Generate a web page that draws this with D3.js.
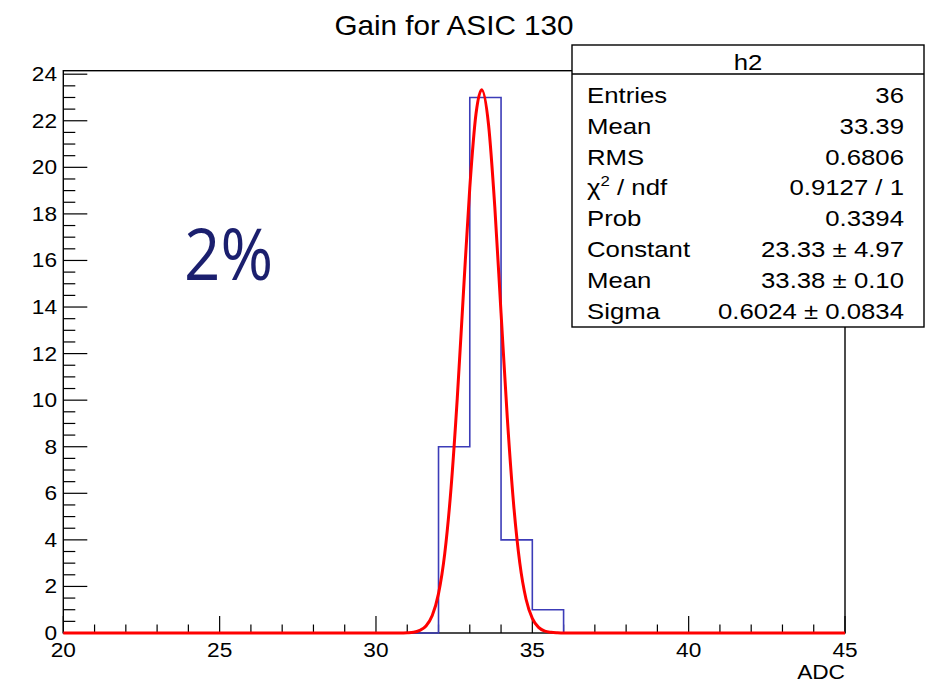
<!DOCTYPE html>
<html>
<head>
<meta charset="utf-8">
<script src="https://cdn.jsdelivr.net/npm/d3@7"></script>
<style>
  html, body { margin: 0; padding: 0; background: #fff; }
  svg { display: block; }
</style>
</head>
<body>
<svg id="chart" width="930" height="684"></svg>
<script>
// ---------------- data ----------------
const binEdges = [20,21,22,23,24,25,26,27,28,29,30,31,32,33,34,35,36,37,38,39,40,41,42,43,44,45];
const binCounts = [0,0,0,0,0,0,0,0,0,0,0,0,8,23,4,1,0,0,0,0,0,0,0,0,0];
// fit curve (gaus)
const fitX = [20, 30.8, 31.0, 31.2, 31.4, 31.6, 31.8, 32.0, 32.2, 32.4, 32.6, 32.8, 33.0, 33.2, 33.38, 33.6, 33.8, 34.0, 34.2, 34.4, 34.6, 34.8, 35.0, 35.2, 35.4, 35.6, 35.8, 36.0, 45];
const fitY = [0, 0, 0.01, 0.03, 0.11, 0.30, 0.75, 1.69, 3.42, 6.21, 10.09, 14.68, 19.12, 22.31, 23.33, 21.83, 18.30, 13.74, 9.24, 5.56, 3.00, 1.45, 0.63, 0.24, 0.08, 0.03, 0.01, 0, 0];
const xTicks = [20, 25, 30, 35, 40, 45];
const yTicks = [0, 2, 4, 6, 8, 10, 12, 14, 16, 18, 20, 22, 24];
const statsLabels = ["Entries", "Mean", "RMS", "χ2 / ndf", "Prob", "Constant", "Mean", "Sigma"];
const statsValues = ["36", "33.39", "0.6806", "0.9127 / 1", "0.3394", "23.33 ± 4.97", "33.38 ± 0.10", "0.6024 ± 0.0834"];
const titleText = "Gain for ASIC 130";
const histName = "h2";
const xTitle = "ADC";
const annotation = "2%";

// ---------------- layout ----------------
const svg = d3.select("#chart");
const L = 63.3, R = 845, T = 70.7, B = 633;
const x = d3.scaleLinear().domain([20, 45]).range([L, R]);
const y = d3.scaleLinear().domain([0, 24.15]).range([B, T]);
const FONT = "'Liberation Sans', Arial, Helvetica, sans-serif";

// text helper with slight horizontal stretch (reference glyphs are wider than tall)
function addText(parent, px, py, str, size, anchor, sx) {
  return parent.append("text")
    .attr("transform", `translate(${px},${py}) scale(${sx},1)`)
    .attr("text-anchor", anchor)
    .attr("font-family", FONT).attr("font-size", size).attr("fill", "#000")
    .text(str);
}

// title
addText(svg, 454, 35, titleText, 28, "middle", 1.06);

// frame
svg.append("rect").attr("x", L).attr("y", T).attr("width", R - L).attr("height", B - T)
  .attr("fill", "none").attr("stroke", "#000").attr("stroke-width", 1.4);

// x axis ticks
const xMinor = d3.range(20, 45.001, 1);
svg.append("g").selectAll("line").data(xMinor).join("line")
  .attr("x1", d => x(d)).attr("x2", d => x(d))
  .attr("y1", B).attr("y2", d => B - (d % 5 === 0 ? 17 : 8.5))
  .attr("stroke", "#000").attr("stroke-width", 1.2);
const gx = svg.append("g");
xTicks.forEach(v => addText(gx, x(v), 657, v, 21, "middle", 1.08));
addText(svg, R, 679, xTitle, 21, "end", 1.08);

// y axis ticks
const yMinor = d3.range(0, 24.001, 0.5);
svg.append("g").selectAll("line").data(yMinor).join("line")
  .attr("x1", L).attr("x2", d => L + (d % 2 === 0 ? 24 : 12))
  .attr("y1", d => y(d)).attr("y2", d => y(d))
  .attr("stroke", "#000").attr("stroke-width", 1.2);
const gy = svg.append("g");
yTicks.forEach(v => addText(gy, 57, y(v) + 7, v, 21, "end", 1.08));

// histogram outline
const stepPts = [];
binCounts.forEach((c, i) => {
  stepPts.push([binEdges[i], c]);
  stepPts.push([binEdges[i + 1], c]);
});
svg.append("path").datum(stepPts)
  .attr("d", d3.line().x(d => x(d[0])).y(d => y(d[1])))
  .attr("fill", "none").attr("stroke", "#3c3cb8").attr("stroke-width", 1.6);

// fit curve
const fitPts = fitX.map((v, i) => [v, fitY[i]]);
svg.append("path").datum(fitPts)
  .attr("d", d3.line().x(d => x(d[0])).y(d => y(d[1])).curve(d3.curveMonotoneX))
  .attr("fill", "none").attr("stroke", "#ff0000").attr("stroke-width", 3)
  .attr("stroke-linejoin", "round");

// annotation
svg.append("text").attr("x", 184).attr("y", 280)
  .attr("font-family", "'Open Sans', Lato, sans-serif").attr("font-size", 72)
  .attr("textLength", 89).attr("lengthAdjust", "spacingAndGlyphs")
  .attr("fill", "#1b1f6e").text(annotation);

// stats box
const bx = 572, by = 45, bw = 352, bh = 282;
svg.append("rect").attr("x", bx).attr("y", by).attr("width", bw).attr("height", bh)
  .attr("fill", "#fff").attr("stroke", "#000").attr("stroke-width", 1.4);
svg.append("line").attr("x1", bx).attr("x2", bx + bw).attr("y1", 74).attr("y2", 74)
  .attr("stroke", "#000").attr("stroke-width", 1.4);
addText(svg, bx + bw / 2, 70, histName, 23, "middle", 1.12);
const rowY = i => 103 + i * 30.8;
const gs = svg.append("g");
statsLabels.forEach((lab, i) => {
  if (lab.startsWith("χ2")) {
    const t = addText(gs, 587, rowY(i), "", 23, "start", 1.12);
    t.append("tspan").text("χ");
    t.append("tspan").attr("font-size", 15).attr("dy", -9).text("2");
    t.append("tspan").attr("dy", 9).text(" / ndf");
  } else {
    addText(gs, 587, rowY(i), lab, 23, "start", 1.12);
  }
});
statsValues.forEach((v, i) => addText(gs, 904, rowY(i), v, 23, "end", 1.12));
</script>
</body>
</html>
